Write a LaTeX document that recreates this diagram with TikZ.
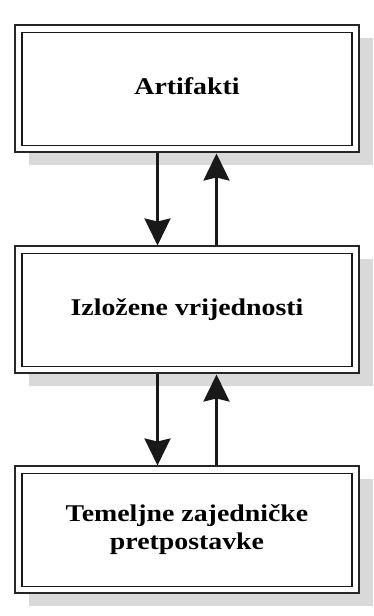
\documentclass[tikz,border=0pt]{standalone}
\usepackage{fontspec}
\setmainfont{Liberation Serif}
\usetikzlibrary{arrows.meta,shadows}
\newcommand{\boxtext}[1]{\scalebox{1.16}[1]{\fontsize{24}{28.3}\selectfont\bfseries\begin{tabular}{@{}c@{}}#1\end{tabular}}}
\begin{document}
\begin{tikzpicture}[x=1pt,y=1pt,
  layerbox/.style={draw=black!85, line width=2pt, fill=white,
    minimum width=344pt, minimum height=127pt, inner sep=0pt,
    general shadow={fill=black!15, shadow xshift=14pt, shadow yshift=-13pt},
    path picture={\draw[black!90, line width=1.5pt]
      ([shift={(7pt,-7pt)}]path picture bounding box.north west) rectangle
      ([shift={(-7pt,7pt)}]path picture bounding box.south east);}},
  arr/.style={draw=black!90, line width=2.7pt,
    -{Stealth[length=27pt,width=26pt,inset=3pt]}}]
\useasboundingbox (0,0) rectangle (374,616);
\node[layerbox] (b1) at (187,527) {\boxtext{Artifakti}};
\node[layerbox] (b2) at (187,306) {\boxtext{Izložene vrijednosti}};
\node[layerbox] (b3) at (187,86) {\boxtext{Temeljne zajedničke\\pretpostavke}};
\coordinate (dx) at (157.5,0);
\coordinate (ux) at (216.5,0);
\draw[arr] (b1.south -| dx) -- (b2.north -| dx);
\draw[arr] (b2.north -| ux) -- (b1.south -| ux);
\draw[arr] (b2.south -| dx) -- (b3.north -| dx);
\draw[arr] (b3.north -| ux) -- (b2.south -| ux);
\end{tikzpicture}
\end{document}
